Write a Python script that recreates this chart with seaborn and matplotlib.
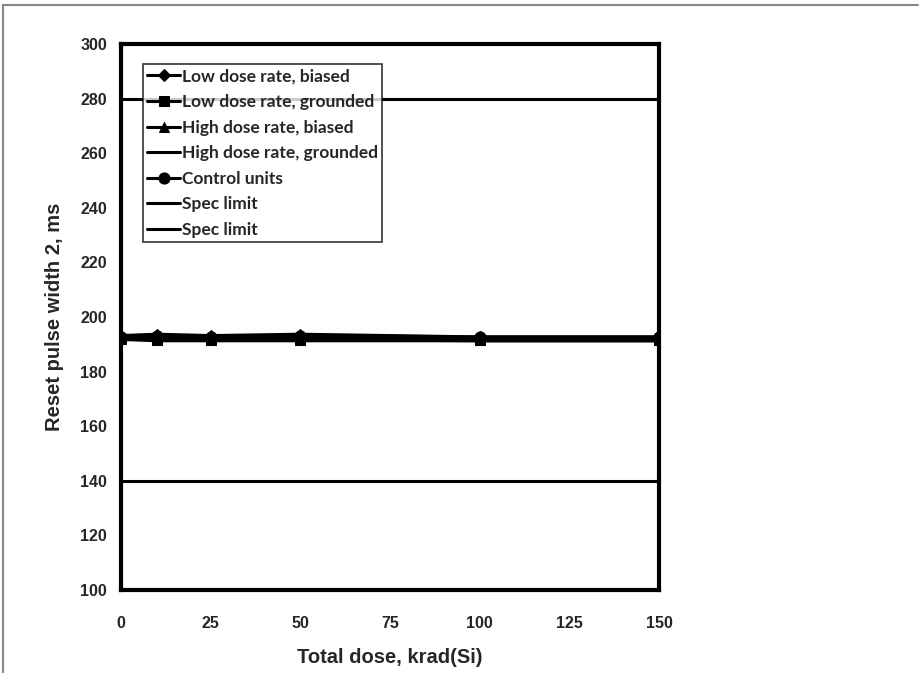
import numpy as np
import pandas as pd
import matplotlib
matplotlib.use('Agg')
import matplotlib.pyplot as plt
from matplotlib.lines import Line2D
import seaborn as sns

sns.set_theme(style='white')
plt.rcParams['font.family'] = ['Liberation Sans Narrow', 'Liberation Sans', 'DejaVu Sans']

# 数据
dose = [0, 10, 25, 50, 100, 150]
low_biased = [193.0, 193.5, 193.0, 193.5, 192.5, 192.5]
low_grounded = [192.0, 191.5, 191.5, 191.5, 191.5, 191.5]
high_biased = [192.5, 192.0, 192.0, 192.0, 191.5, 191.5]
high_grounded = [192.5, 192.5, 192.0, 192.5, 192.0, 192.0]
control = [192.5, 193.0, 192.5, 193.0, 192.5, 192.5]
spec_low = [140, 140]
spec_high = [280, 280]
spec_x = [0, 150]

series = [
    ('Low dose rate, biased', low_biased, 'D', 6),
    ('Low dose rate, grounded', low_grounded, 's', 7),
    ('High dose rate, biased', high_biased, '^', 7),
    ('High dose rate, grounded', high_grounded, None, 0),
    ('Control units', control, 'o', 8),
]

fig = plt.figure(figsize=(9.19, 6.73), dpi=100)
ax = fig.add_axes([0.1317, 0.1233, 0.5855, 0.8113])

for name, vals, mk, ms in series:
    df = pd.DataFrame({'x': dose, 'y': vals})
    sns.lineplot(data=df, x='x', y='y', ax=ax, color='black', linewidth=3,
                 marker=mk, markersize=ms, markeredgecolor='black', label=name)

for vals in (spec_low, spec_high):
    df = pd.DataFrame({'x': spec_x, 'y': vals})
    sns.lineplot(data=df, x='x', y='y', ax=ax, color='black', linewidth=2.2,
                 label='Spec limit')

ax.set_xlim(0, 150)
ax.set_ylim(100, 300)
ax.set_xticks(np.arange(0, 151, 25))
ax.set_yticks(np.arange(100, 301, 20))
ax.tick_params(direction='in', length=4, width=1.5, color='black', labelsize=11.5)
ax.tick_params(axis='x', pad=19)
ax.tick_params(axis='y', pad=10)
for lab in ax.get_xticklabels() + ax.get_yticklabels():
    lab.set_fontweight('bold')
for sp in ax.spines.values():
    sp.set_linewidth(3)
    sp.set_color('black')

ax.set_xlabel('Total dose, krad(Si)', fontsize=14.5, fontweight='bold',
              family=['Liberation Sans', 'DejaVu Sans'], labelpad=12)
ax.set_ylabel('Reset pulse width 2, ms', fontsize=14.5, fontweight='bold',
              family=['Liberation Sans', 'DejaVu Sans'], labelpad=12)

leg = ax.legend(loc='upper left', bbox_to_anchor=(0.041, 0.963), frameon=True,
                fancybox=False, edgecolor='black', handlelength=1.9,
                handletextpad=0.1, borderpad=0.25, labelspacing=0.55,
                borderaxespad=0.0,
                prop={'family': ['Lato', 'DejaVu Sans'], 'weight': 'bold', 'size': 12.5})
leg.get_frame().set_linewidth(1.2)
for h in leg.get_lines():
    h.set_linewidth(2.2)

# 外框
fig.add_artist(Line2D([0.0033, 0.999], [0.9926, 0.9926], color='#888888', linewidth=1.5,
                      transform=fig.transFigure))
fig.add_artist(Line2D([0.0033, 0.0033], [0.0, 0.9926], color='#888888', linewidth=1.5,
                      transform=fig.transFigure))

fig.savefig('out.png', dpi=100)
